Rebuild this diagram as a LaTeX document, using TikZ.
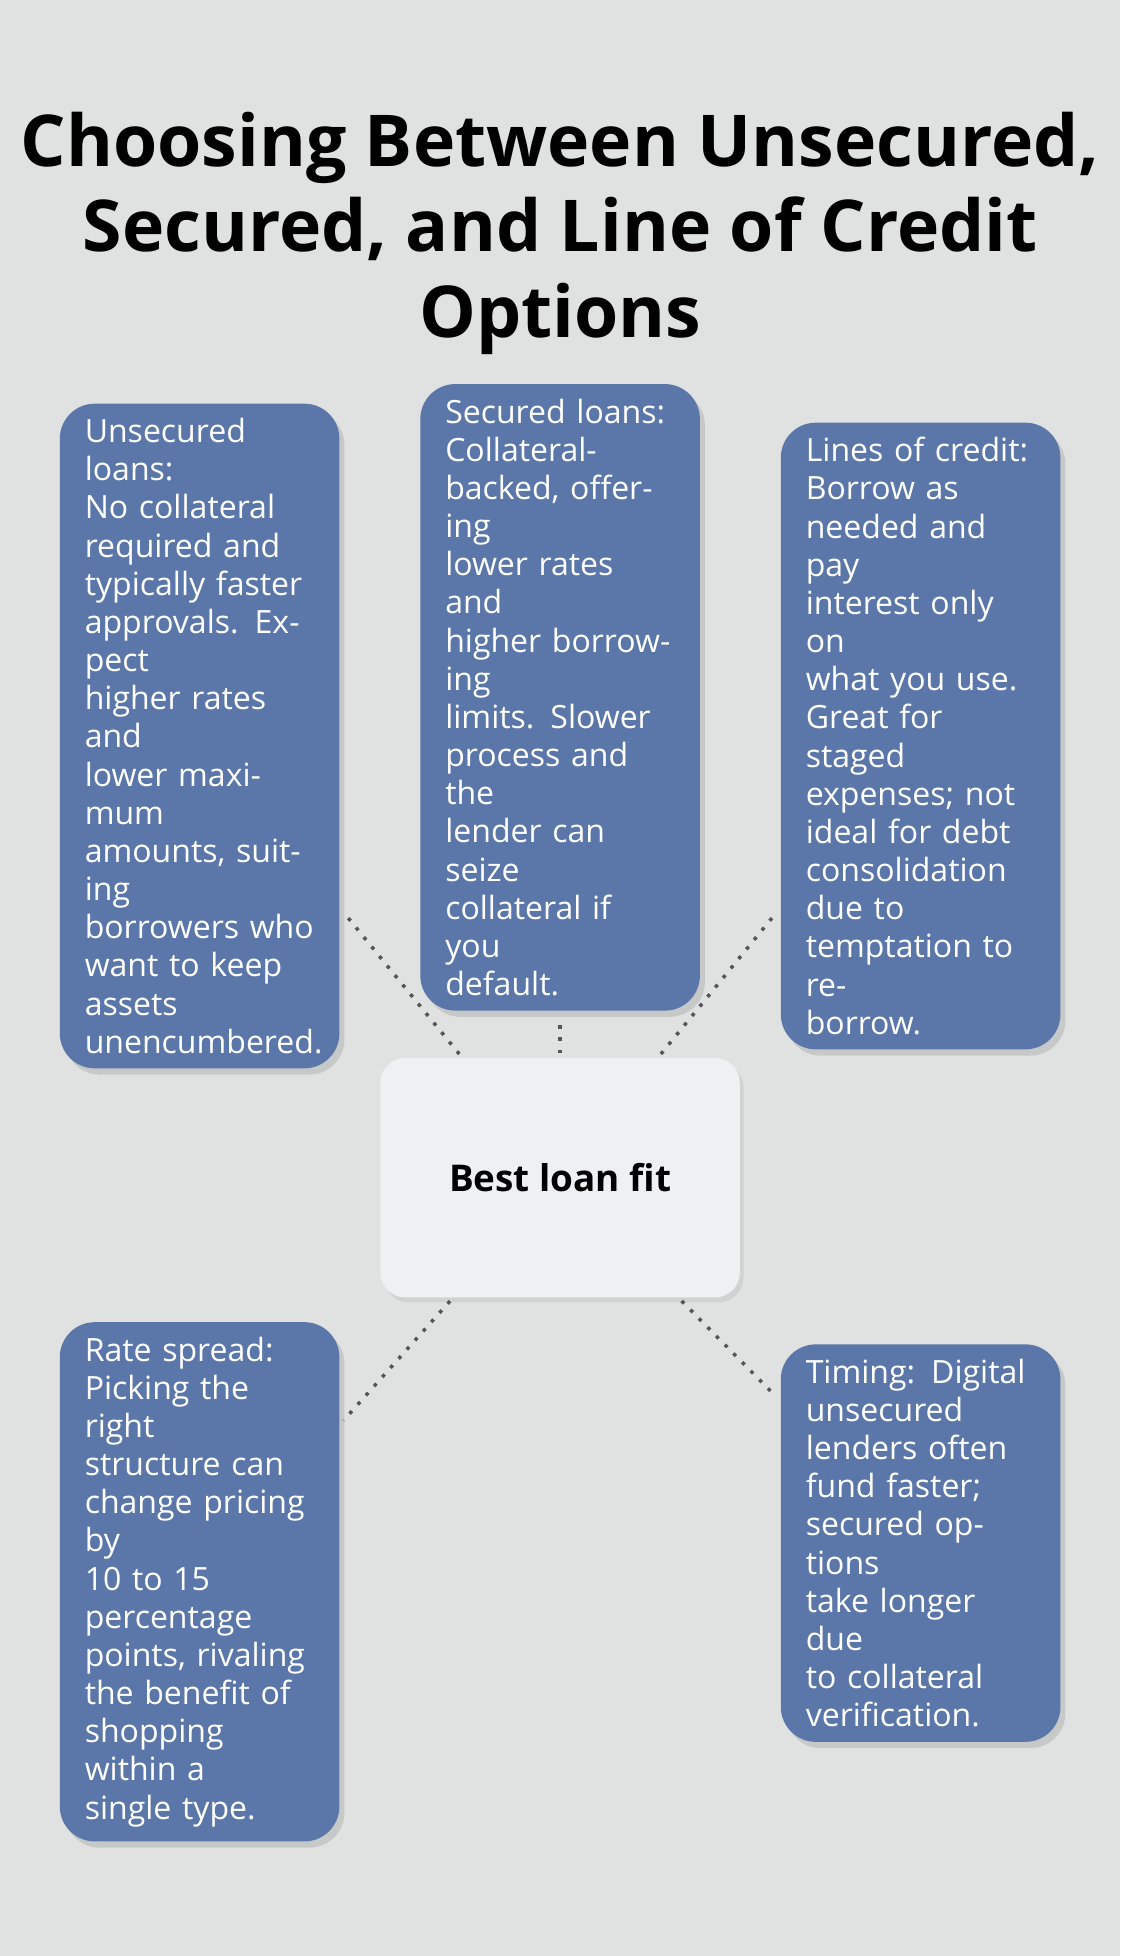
\documentclass[tikz,border=0pt]{standalone}
\usepackage{fontspec}
\setmainfont{Open Sans}
\usetikzlibrary{shadows}
\definecolor{bgcol}{HTML}{E0E2E1}
\definecolor{cardcol}{HTML}{5B76A8}
\definecolor{hubcol}{HTML}{EFF0F2}
\definecolor{linkcol}{HTML}{555555}

\begin{document}
\begin{tikzpicture}[x=0.01cm,y=-0.01cm]
    \tikzset{card/.style={rectangle,rounded corners=0.28cm,fill=cardcol,text=white,
        minimum width=2.24cm,text width=1.84cm,inner xsep=0.2cm,align=left,
        font=\fontsize{7.3pt}{8.7pt}\selectfont,
        drop shadow={shadow xshift=0.04cm,shadow yshift=-0.05cm,opacity=0.25}}}
    \tikzset{hub/.style={rectangle,rounded corners=0.2cm,fill=hubcol,
        minimum width=2.88cm,minimum height=1.92cm,font=\bfseries\fontsize{8.4pt}{10pt}\selectfont,
        drop shadow={shadow xshift=0.03cm,shadow yshift=-0.04cm,opacity=0.15}}}
    \tikzset{link/.style={thick,dotted,linkcol,shorten <=0.03cm,shorten >=0.04cm}}
    \fill[bgcol] (0,0) rectangle (898,1568);
    \node (title) at (449,187) [align=center,font=\bfseries\fontsize{16.3pt}{19.5pt}\selectfont]
        {Choosing Between Unsecured,\\Secured, and Line of Credit\\Options};
    \node (hub) at (449,944) [hub] {Best loan fit};
    \node (unsec) at (160,590) [card,minimum height=4.04cm] {Unsecured loans:\\No collateral\\required and\\typically faster\\approvals. Expect\\higher rates and\\lower maximum\\amounts, suiting\\borrowers who\\want to keep\\assets\\unencumbered.};
    \node (sec) at (449,559) [card,minimum height=3.42cm] {Secured loans:\\Collateral-\\backed, offering\\lower rates and\\higher borrowing\\limits. Slower\\process and the\\lender can seize\\collateral if you\\default.};
    \node (loc) at (738,590) [card,minimum height=4.04cm] {Lines of credit:\\Borrow as\\needed and pay\\interest only on\\what you use.\\Great for staged\\expenses; not\\ideal for debt\\consolidation\\due to\\temptation to re-\\borrow.};
    \node (spread) at (160,1268) [card,minimum height=3.43cm] {Rate spread:\\Picking the right\\structure can\\change pricing by\\10 to 15\\percentage\\points, rivaling\\the benefit of\\shopping within a\\single type.};
    \node (timing) at (738,1237) [card,minimum height=2.81cm] {Timing: Digital\\unsecured\\lenders often\\fund faster;\\secured options\\take longer due\\to collateral\\verification.};
    \draw [link] (hub) -- (unsec);
    \draw [link] (hub) -- (sec);
    \draw [link] (hub) -- (loc);
    \draw [link] (hub) -- (spread);
    \draw [link] (hub) -- (timing);
\end{tikzpicture}
\end{document}
